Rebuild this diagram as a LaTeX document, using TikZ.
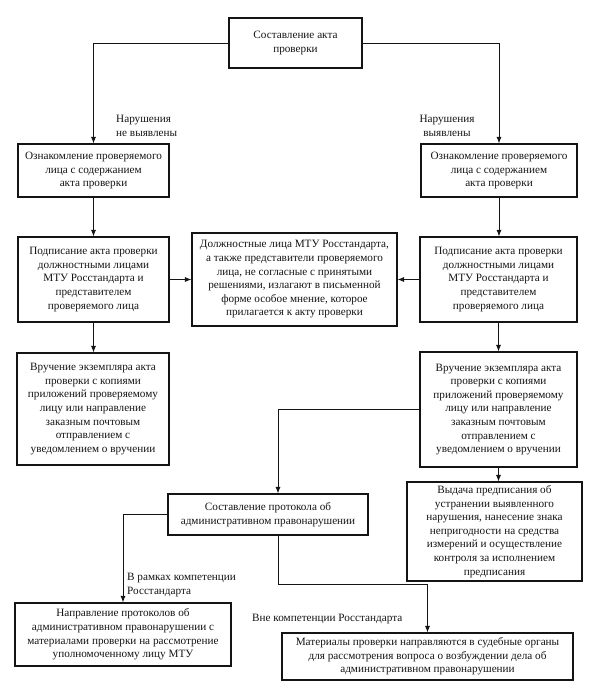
\documentclass[tikz,border=0pt]{standalone}
\usepackage{fontspec}
\setmainfont{Liberation Serif}
\usepackage{tikz}
\usetikzlibrary{arrows.meta}
\usetikzlibrary{positioning}
\definecolor{inkblack}{RGB}{20,20,20}

\begin{document}
\begin{tikzpicture}[x=1pt,y=-1pt,
    stagebox/.style={draw=inkblack,line width=1.2pt,align=center,inner sep=0pt,
      font=\fontsize{11.2}{13.6}\selectfont,text=inkblack},
    branchtext/.style={font=\fontsize{11.2}{13.6}\selectfont,text=inkblack,inner sep=0pt},
    flow/.style={draw=inkblack,line width=0.9pt,-{Latex[length=2.3mm,width=1.8mm]}}]
        \useasboundingbox (0,0) rectangle (601,697);
        % top
        \node[stagebox,minimum width=133pt,minimum height=50pt] (akt) at (295.5,43)
          {Составление акта\\проверки};
        % left branch
        \node[stagebox,minimum width=151pt,minimum height=53pt] (oznL) at (93.5,170.5)
          {Ознакомление проверяемого\\лица с содержанием\\акта проверки};
        \node[stagebox,minimum width=151pt,minimum height=85pt] (podL) at (93.5,279.5)
          {Подписание акта проверки\\должностными лицами\\МТУ Росстандарта и\\представителем\\проверяемого лица};
        \node[stagebox,minimum width=152pt,minimum height=112pt] (vruL) at (93,409)
          {Вручение экземпляра акта\\проверки с копиями\\приложений проверяемому\\лицу или направление\\заказным почтовым\\отправлением с\\уведомлением о вручении};
        % middle
        \node[stagebox,minimum width=205pt,minimum height=93pt] (mnenie) at (294.5,279.5)
          {Должностные лица МТУ Росстандарта,\\а также представители проверяемого\\лица, не согласные с принятыми\\решениями, излагают в письменной\\форме особое мнение, которое\\прилагается к акту проверки};
        % right branch
        \node[stagebox,minimum width=156pt,minimum height=53pt] (oznR) at (499,170.5)
          {Ознакомление проверяемого\\лица с содержанием\\акта проверки};
        \node[stagebox,minimum width=157pt,minimum height=85pt] (podR) at (498.5,279.5)
          {Подписание акта проверки\\должностными лицами\\МТУ Росстандарта и\\представителем\\проверяемого лица};
        \node[stagebox,minimum width=157pt,minimum height=115pt] (vruR) at (498.5,409.5)
          {Вручение экземпляра акта\\проверки с копиями\\приложений проверяемому\\лицу  или направление\\заказным почтовым\\отправлением с\\уведомлением о вручении};
        \node[stagebox,minimum width=175pt,minimum height=99pt] (vyd) at (494.5,531.5)
          {Выдача предписания об\\устранении выявленного\\нарушения, нанесение знака\\непригодности на средства\\измерений  и осуществление\\контроля за исполнением\\предписания};
        % protocol
        \node[stagebox,minimum width=200pt,minimum height=41pt] (prot) at (268,514.5)
          {Составление протокола об\\административном правонарушении};
        \node[stagebox,minimum width=216pt,minimum height=63pt] (naprav) at (123,634.5)
          {Направление протоколов об\\административном правонарушении с\\материалами проверки на рассмотрение\\уполномоченному лицу МТУ};
        \node[stagebox,minimum width=291pt,minimum height=47pt] (mater) at (427.5,656.5)
          {Материалы проверки направляются в судебные органы\\для рассмотрения вопроса о возбуждении дела об\\административном правонарушении};
        \coordinate (bend) at (427.5,584);
        % connectors
        \draw[flow] (akt.west) -| (oznL.north);
        \draw[flow] (akt.east) -| (oznR.north);
        \draw[flow] (oznL.south) -- (podL.north);
        \draw[flow] (oznR.south) -- (oznR.south |- podR.north);
        \draw[flow] (podL.east) -- (mnenie.west);
        \draw[flow] (podR.west) -- (mnenie.east);
        \draw[flow] (podL.south) -- (podL.south |- vruL.north);
        \draw[flow] (podR.south) -- (vruR.north);
        \draw[flow] (vruR.west) -| ([xshift=10pt]prot.north);
        \draw[flow] (vruR.south) -- (vruR.south |- vyd.north);
        \draw[flow] (prot.west) -| (naprav.north);
        \draw[flow] ([xshift=10pt]prot.south) |- (bend) -- (mater.north);
        % branch labels
        \node[branchtext,align=left,anchor=west] (lblNo) at (116,126) {Нарушения\\не выявлены};
        \node[branchtext,align=center] (lblYes) at (447,126) {Нарушения\\выявлены};
        \node[branchtext,align=left,anchor=west] (lblIn) at (127,585) {В рамках компетенции\\Росстандарта};
        \node[branchtext,anchor=west] (lblOut) at (252,619) {Вне компетенции Росстандарта};
      \end{tikzpicture}
\end{document}
